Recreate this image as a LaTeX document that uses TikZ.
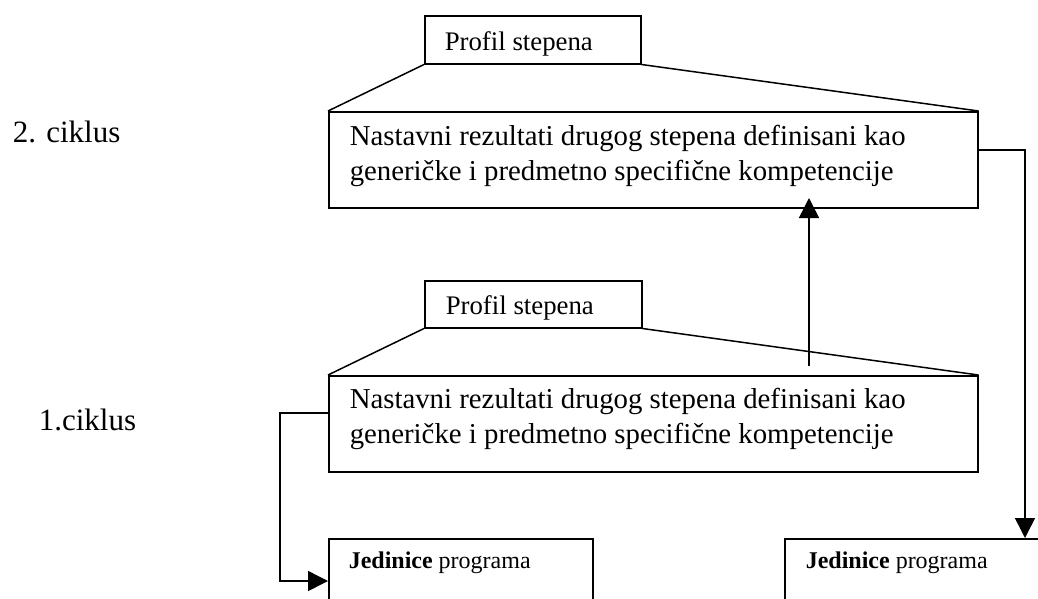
\documentclass[tikz,border=0pt]{standalone}
\usepackage{fontspec}
\setmainfont{Liberation Serif}
\usetikzlibrary{arrows.meta}
\begin{document}
\begin{tikzpicture}[x=1pt,y=-1pt,line width=1.5pt,
  box/.style={draw,rectangle,inner sep=0pt,anchor=north west,line width=1.5pt},
  arr/.style={-{Triangle[length=20pt,width=20pt]}},
  mtxt/.style={anchor=base west,inner sep=0pt,font=\fontsize{28.8}{35}\selectfont},
  ptxt/.style={anchor=base west,inner sep=0pt,font=\fontsize{26.8}{32}\selectfont},
  jtxt/.style={anchor=base west,inner sep=0pt,font=\fontsize{24}{29}\selectfont},
  ctxt/.style={anchor=base west,inner sep=0pt,font=\fontsize{31}{37}\selectfont}]
\clip (0,0) rectangle (1038,598);
% boxes
\node[box,minimum width=649pt,minimum height=96pt] (top) at (328,111) {};
\node[box,minimum width=216pt,minimum height=48pt] (ptop) at (424,15) {};
\node[box,minimum width=649pt,minimum height=96pt] (low) at (328,375) {};
\node[box,minimum width=217pt,minimum height=47pt] (plow) at (424,280) {};
\node[box,minimum width=264pt,minimum height=100pt] (jl) at (328,538) {};
\node[box,minimum width=300pt,minimum height=100pt] (jr) at (784,538) {};
% trapezoid sides
\draw (ptop.south west) -- (top.north west);
\draw (ptop.south east) -- (top.north east);
\draw (plow.south west) -- (low.north west);
\draw (plow.south east) -- (low.north east);
% texts
\node[ctxt] (c2) at (12,142) {2. ciklus};
\node[ctxt] (c1) at (38,430) {1.ciklus};
\node[ptxt] (pt1) at (444,50) {Profil stepena};
\node[ptxt] (pt2) at (445,314) {Profil stepena};
\node[mtxt] (m1a) at (349,145) {Nastavni rezultati drugog stepena definisani kao};
\node[mtxt] (m1b) at (349,180) {generičke i predmetno specifične kompetencije};
\node[mtxt] (m2a) at (349,408) {Nastavni rezultati drugog stepena definisani kao};
\node[mtxt] (m2b) at (349,443) {generičke i predmetno specifične kompetencije};
\node[jtxt] (j1) at (348,568) {\textbf{Jedinice} programa};
\node[jtxt] (j2) at (805,568) {\textbf{Jedinice} programa};
% connectors
\coordinate (ua) at (809,366);
\coordinate (ub) at (809,198);
\draw[arr] (ua) -- (ub);
\coordinate (rs) at (977,150);
\coordinate (rt) at (1025,150);
\draw[arr] (rs) -- (rt) -- (rt |- jr.north);
\coordinate (ls) at (328,413);
\coordinate (lt) at (280,413);
\coordinate (lb) at (280,581);
\draw[arr] (ls) -- (lt) -- (lb) -- (lb -| jl.west);
\end{tikzpicture}
\end{document}
